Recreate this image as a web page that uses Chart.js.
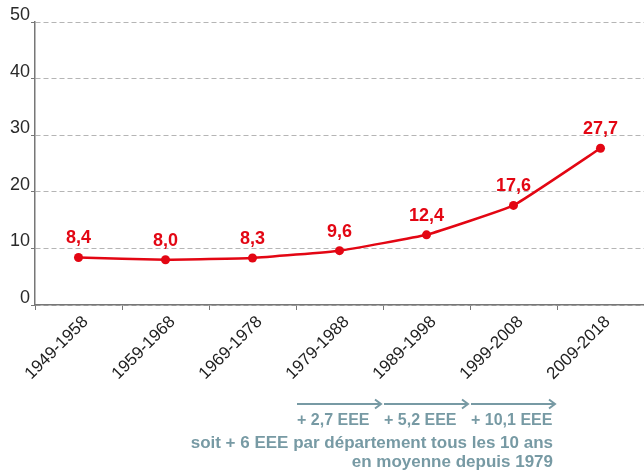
<!DOCTYPE html>
<html>
<head>
<meta charset="utf-8">
<script src="https://cdn.jsdelivr.net/npm/chart.js@4/dist/chart.umd.min.js"></script>
<style>
  html, body { margin: 0; padding: 0; background: #fff; }
  #c { display: block; }
</style>
</head>
<body>
<canvas id="c" width="644" height="470"></canvas>
<script>
// ---- data ----
const periods = ["1949-1958", "1959-1968", "1969-1978", "1979-1988", "1989-1998", "1999-2008", "2009-2018"];
const values = [8.4, 8.0, 8.3, 9.6, 12.4, 17.6, 27.7];
const yTicks = [0, 10, 20, 30, 40, 50];
// arrows under the axis: which category each one spans, and its caption
const gainIdx = [3, 4, 5];
const gainText = ["+ 2,7 EEE", "+ 5,2 EEE", "+ 10,1 EEE"];
const noteLines = ["soit + 6 EEE par département tous les 10 ans", "en moyenne depuis 1979"];

const RED = "#e30613";
const TEAL = "#779aa4";
const FONT = "'Liberation Sans', Arial, Helvetica, sans-serif";

const fmt = (v) => v.toFixed(1).replace(".", ",");

// value labels above each point
const valueLabels = {
  id: "valueLabels",
  afterDatasetsDraw(chart) {
    const ctx = chart.ctx;
    const meta = chart.getDatasetMeta(0);
    ctx.save();
    ctx.font = "bold 18px " + FONT;
    ctx.fillStyle = RED;
    ctx.textAlign = "center";
    ctx.textBaseline = "alphabetic";
    meta.data.forEach((pt, i) => ctx.fillText(fmt(values[i]), pt.x, pt.y - 14));
    ctx.restore();
  },
};

// arrows + captions below the category labels
const gains = {
  id: "gains",
  afterDraw(chart) {
    const ctx = chart.ctx;
    const x = chart.scales.x;
    const half = (x.getPixelForValue(1) - x.getPixelForValue(0)) / 2;
    const yArrow = 404;
    ctx.save();
    ctx.strokeStyle = TEAL;
    ctx.fillStyle = TEAL;
    ctx.lineWidth = 2;
    ctx.textBaseline = "middle";
    let lastEnd = 0;
    gainIdx.forEach((idx, k) => {
      const x0 = x.getPixelForValue(idx) - half + 1;
      const x1 = x.getPixelForValue(idx) + half - 2;
      ctx.beginPath();
      ctx.moveTo(x0, yArrow);
      ctx.lineTo(x1, yArrow);
      ctx.moveTo(x1 - 6, yArrow - 4.5);
      ctx.lineTo(x1, yArrow);
      ctx.lineTo(x1 - 6, yArrow + 4.5);
      ctx.stroke();
      ctx.font = "bold 16px " + FONT;
      ctx.textAlign = "left";
      ctx.fillText(gainText[k], x0, 421);
      lastEnd = x1;
    });
    ctx.font = "bold 17px " + FONT;
    ctx.textAlign = "right";
    noteLines.forEach((t, i) => ctx.fillText(t, lastEnd - 2, 443 + i * 19));
    ctx.restore();
  },
};

new Chart(document.getElementById("c"), {
  type: "line",
  data: {
    labels: periods,
    datasets: [{
      data: values,
      borderColor: RED,
      backgroundColor: RED,
      borderWidth: 2.5,
      pointRadius: 4.5,
      pointBackgroundColor: RED,
      pointBorderWidth: 0,
      tension: 0.1,
      fill: false,
    }],
  },
  options: {
    responsive: false,
    animation: false,
    devicePixelRatio: 1,
    layout: { autoPadding: false, padding: { top: 22, right: 0, left: 0, bottom: 0 } },
    plugins: { legend: { display: false }, tooltip: { enabled: false } },
    scales: {
      x: {
        offset: true,
        afterFit: (s) => { s.height = 165; s.paddingRight = 0; s.paddingLeft = 0; },
        grid: { offset: true, drawOnChartArea: false, drawTicks: true, tickLength: 5, tickColor: "#777", tickWidth: 1 },
        border: { color: "#777", width: 1.5 },
        ticks: {
          autoSkip: false, minRotation: 45, maxRotation: 45, padding: 2, labelOffset: 7,
          color: "#222", font: { family: FONT, size: 17 },
        },
      },
      y: {
        min: yTicks[0],
        max: yTicks[yTicks.length - 1],
        afterFit: (s) => { s.width = 35; s.paddingTop = 0; s.paddingBottom = 0; },
        afterBuildTicks: (s) => { s.ticks = yTicks.map((v) => ({ value: v })); },
        grid: { color: "#b5b5b5", lineWidth: 1, tickLength: 4, tickColor: "#777", tickWidth: 1 },
        border: { color: "#777", width: 1.5, dash: [5, 3] },
        ticks: {
          padding: 1, labelOffset: -7,
          color: "#2a2a2a", font: { family: FONT, size: 18 },
        },
      },
    },
  },
  plugins: [valueLabels, gains],
});
</script>
</body>
</html>
